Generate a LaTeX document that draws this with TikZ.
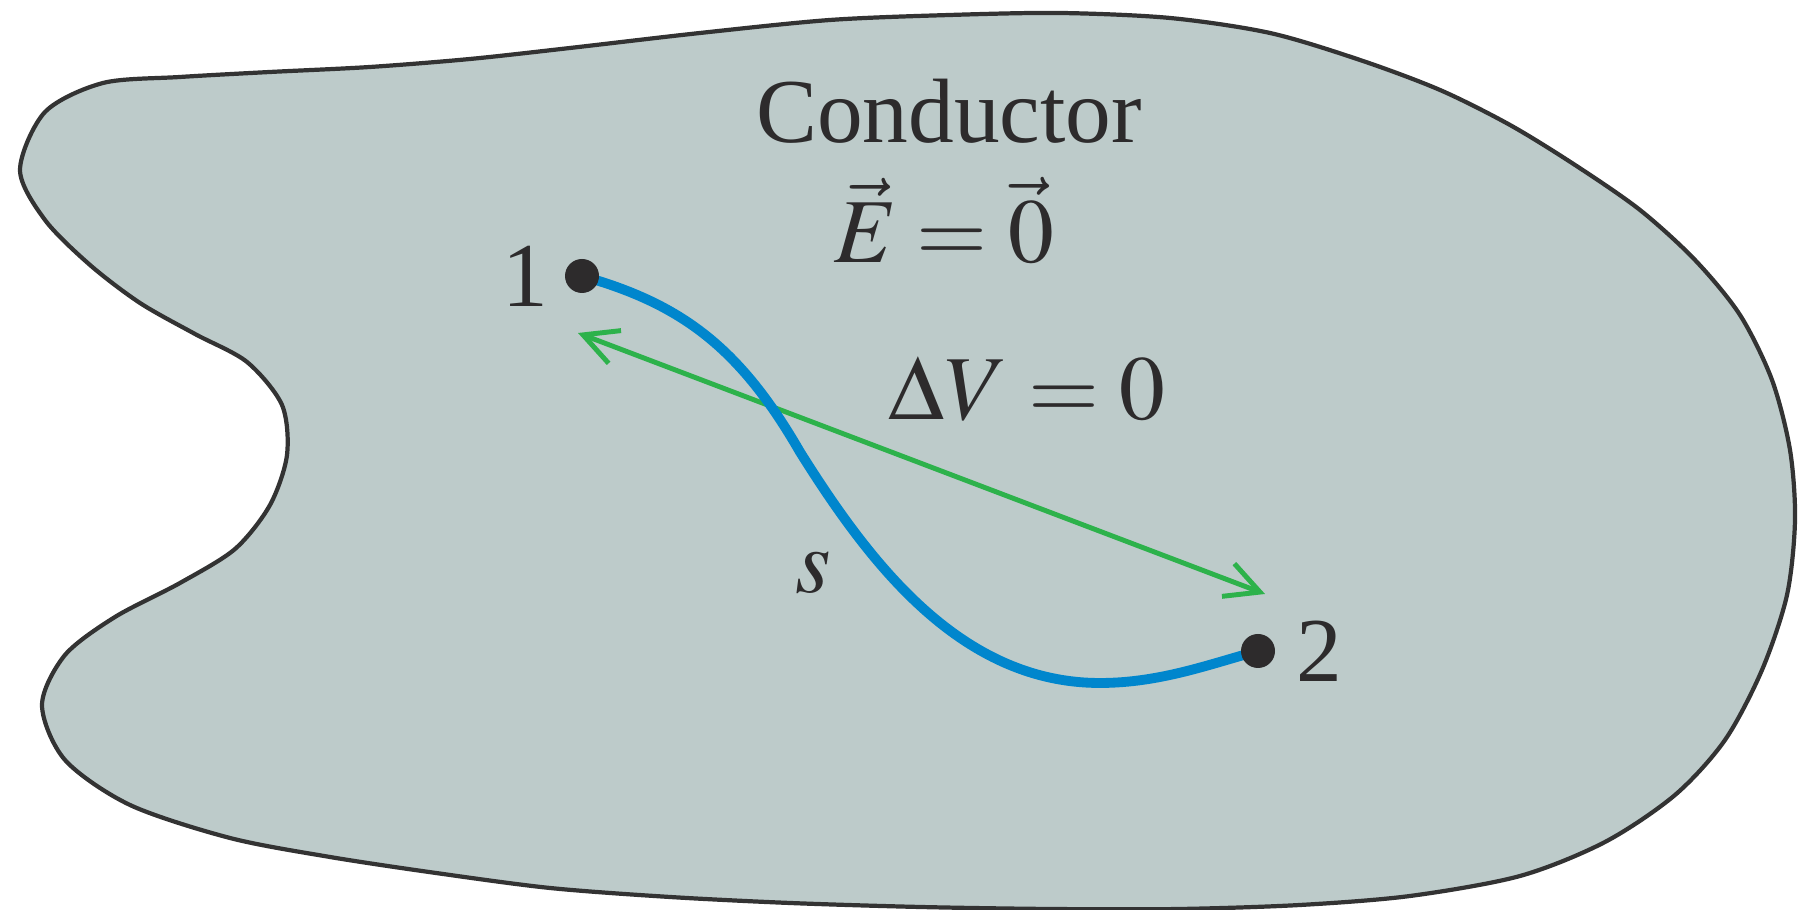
\documentclass[tikz,border=0pt]{standalone}
\usepackage{mathptmx}
\usepackage[no-math]{fontspec}
\setmainfont{Liberation Serif}
\usetikzlibrary{arrows.meta,positioning,calc}
\definecolor{bodyfill}{RGB}{189,203,202}
\definecolor{edgegray}{RGB}{51,51,51}
\definecolor{pathblue}{RGB}{0,134,205}
\definecolor{fieldgreen}{RGB}{45,178,75}
\definecolor{inkgray}{RGB}{45,43,44}
\tikzset{
  conductorbody/.style={draw=edgegray, fill=bodyfill, line width=1.2pt},
  lbl/.style={text=inkgray, inner sep=0pt, font=\fontsize{26}{31}\selectfont},
  ptdot/.style={circle, fill=inkgray, inner sep=0pt, minimum size=0.34cm},
  pathline/.style={draw=pathblue, line width=2.8pt},
  fieldarrow/.style={{Straight Barb[length=3.4mm,width=3.5mm]}-{Straight Barb[length=3.4mm,width=3.5mm]},
    draw=fieldgreen, line width=1.4pt}
}

\begin{document}
\begin{tikzpicture}[node distance=0.15cm]
  \useasboundingbox (0,0) rectangle (18.01,9.10);
  % conductor outline
  \draw[conductorbody] plot[smooth cycle] coordinates {
    (0.20,7.40) (0.45,7.98) (1.03,8.27) (1.80,8.33) (2.70,8.38) (3.70,8.43)
    (4.70,8.51) (5.70,8.62) (7.00,8.77) (8.30,8.90) (9.50,8.95) (10.60,8.97)
    (11.70,8.92) (12.70,8.77) (13.60,8.50) (14.40,8.20) (15.10,7.85)
    (15.75,7.45) (16.40,7.00) (16.95,6.50) (17.40,5.95) (17.72,5.30)
    (17.90,4.60) (17.95,3.90) (17.87,3.15) (17.62,2.40) (17.25,1.70)
    (16.75,1.15) (16.05,0.68) (15.20,0.34) (14.10,0.14) (13.00,0.05)
    (11.80,0.01) (10.50,0.01) (9.20,0.03) (7.90,0.07) (6.70,0.13) (5.50,0.22)
    (4.36,0.37) (3.30,0.53) (2.30,0.72) (1.30,1.05) (0.65,1.50) (0.42,2.05)
    (0.65,2.55) (1.15,2.93) (1.80,3.27) (2.35,3.61) (2.70,4.05) (2.87,4.55)
    (2.82,5.05) (2.47,5.48) (1.95,5.76) (1.40,6.07) (0.90,6.45) (0.45,6.90)};
  % points 1 and 2
  \coordinate (p1) at (5.82,6.34);
  \coordinate (p2) at (12.58,2.59);
  \coordinate (mid) at (8.00,4.58);
  \coordinate (low) at (11.00,2.27);
  \coordinate (g1) at ($(p1)+(-0.04,-0.57)$);
  \coordinate (g2) at ($(p2)+(0.07,0.57)$);
  \draw[fieldarrow] (g1) -- (g2);
  \draw[pathline] (p1) .. controls +(1.0,-0.28) and +(-0.6,1.04) .. (mid)
    .. controls +(0.69,-1.10) and +(-1.4,0) .. (low)
    .. controls +(0.6,0) and +(-0.48,-0.13) .. (p2);
  \node[ptdot] (d1) at (p1) {};
  \node[ptdot] (d2) at (p2) {};
  \node[lbl, left=of d1] (n1) {1};
  \node[lbl, right=0.2cm of d2] (n2) {2};
  % labels
  \node[lbl, anchor=base] (title) at (9.49,7.67) {Conductor};
  \node[lbl, anchor=base] (field) at (9.44,6.47) {$\vec{E} = \vec{0}$};
  \node[lbl, anchor=base] (dv) at (10.27,4.90) {$\Delta V = 0$};
  \node[lbl, anchor=base] (slbl) at (8.13,3.17) {$s$};
\end{tikzpicture}
\end{document}
